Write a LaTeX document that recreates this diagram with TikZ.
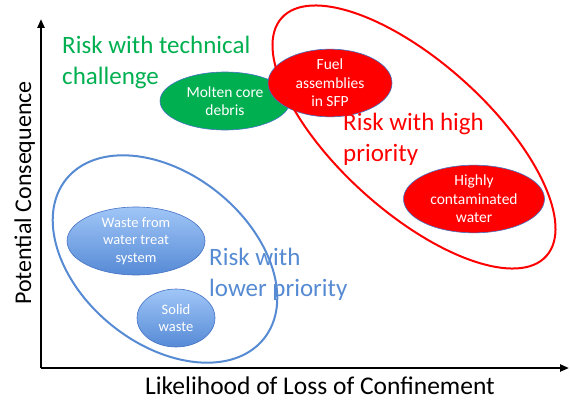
\documentclass[tikz,border=0pt]{standalone}
\usepackage{fontspec}
\setmainfont{Carlito}
\usetikzlibrary{shapes.geometric,arrows.meta}

\definecolor{riskgreen}{RGB}{0,176,80}
\definecolor{riskred}{RGB}{255,0,0}
\definecolor{riskblue}{RGB}{86,139,211}
\definecolor{edgeblue}{RGB}{68,114,196}
\definecolor{lightblue}{RGB}{160,198,247}
\definecolor{darkblue}{RGB}{86,138,214}

\begin{document}
\begin{tikzpicture}[x=1pt, y=1pt,
    item/.style = {ellipse, draw = edgeblue, line width = .6pt, text = white,
      align = center, inner sep = 0pt, font = \fontsize{15.5}{18.5}\selectfont},
    bluitem/.style = {item, top color = lightblue, bottom color = darkblue,
      font = \fontsize{14.5}{17.5}\selectfont},
    zone/.style = {ellipse, line width = 2pt, inner sep = 0pt},
    zonetext/.style = {anchor = north west, align = left, inner sep = 0pt,
      font = \fontsize{25}{30.5}\selectfont},
    axislabel/.style = {anchor = base, inner sep = 0pt,
      font = \fontsize{24}{28}\selectfont}]
  \useasboundingbox (0,0) rectangle (570,400);

  % axes
  \coordinate (o) at (41,32);
  \coordinate (ytop) at (41,381);
  \coordinate (xend) at (569,32);
  \draw [line width = 2.2pt, -{Triangle[length=9pt,width=7pt]}] (o) -- (ytop);
  \draw [line width = 2.2pt, -{Triangle[length=9pt,width=7pt]}] (o) -- (xend);
  \node (ylab) [axislabel, rotate = 90] at (31,207) {Potential Consequence};
  \node (xlab) [axislabel, font = \fontsize{25.5}{28}\selectfont] at (320,6) {Likelihood of Loss of Confinement};

  % technical challenge
  \node (molten) [item, fill = riskgreen, minimum width = 130, minimum height = 58] at (225,299) {Molten core\\debris};
  \node (tech) [zonetext, text = riskgreen] at (62,364) {Risk with technical\\challenge};

  % high priority
  \node (fuel) [item, fill = riskred, minimum width = 124, minimum height = 60] at (330,317) {Fuel\\assemblies\\in SFP};
  \node (water) [item, fill = riskred, minimum width = 141, minimum height = 62] at (474,201) {Highly\\contaminated\\water};
  \node (high) [zone, draw = riskred, rotate = -42, minimum width = 356, minimum height = 150] at (414,263) {};
  \node (hightxt) [zonetext, text = riskred] at (343,287) {Risk with high\\priority};

  % lower priority
  \node (waste) [bluitem, minimum width = 138, minimum height = 68] at (136,159) {Waste from\\water treat\\system};
  \node (solid) [bluitem, minimum width = 78, minimum height = 58] at (176,82) {Solid\\waste};
  \node (low) [zone, draw = riskblue, rotate = -39, minimum width = 254, minimum height = 170] at (165,141) {};
  \node (lowtxt) [zonetext, text = riskblue] at (209,152) {Risk with\\lower priority};
\end{tikzpicture}
\end{document}
